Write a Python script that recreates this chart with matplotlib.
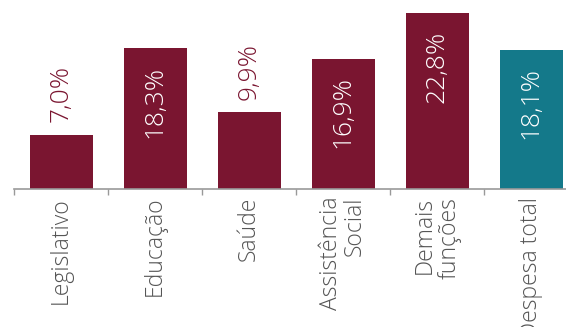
import matplotlib
matplotlib.use('Agg')
import matplotlib.pyplot as plt
import numpy as np

categories = ['Legislativo', 'Educação', 'Saúde', 'Assistência\nSocial', 'Demais\nfunções', 'Despesa total']
values = [7.0, 18.3, 9.9, 16.9, 22.8, 18.1]
labels = ['7,0%', '18,3%', '9,9%', '16,9%', '22,8%', '18,1%']

MAROON = '#7A1530'
TEAL = '#14798A'
plt.rcParams['font.family'] = ['Open Sans', 'DejaVu Sans']

fig = plt.figure(figsize=(5.66, 3.27), dpi=100)
ax = fig.add_axes([14 / 566, 1 - 188.5 / 327, 1 - 14 / 566, 188.5 / 327])

x = np.arange(len(values))
colors = [MAROON] * (len(values) - 1) + [TEAL]
ax.bar(x, values, width=0.67, color=colors, zorder=2)

ax.set_xlim(-0.5, 5.37)
ax.set_ylim(0, 24.55)

for xi, v, lb in zip(x, values, labels):
    if v < 12:
        ax.text(xi, v + 1.6, lb, rotation=90, ha='center', va='bottom',
                color=MAROON, fontsize=19, fontweight='light')
    else:
        ax.text(xi, v - 2.3, lb, rotation=90, ha='center', va='top',
                color='white', fontsize=19, fontweight='light')

for s in ['top', 'right', 'left']:
    ax.spines[s].set_visible(False)
ax.spines['bottom'].set_color('#999999')
ax.spines['bottom'].set_linewidth(1.2)
ax.set_yticks([])

ax.set_xticks(np.arange(-0.5, 5.5, 1.0))
ax.set_xticks(x, minor=True)
ax.set_xticklabels([])
ax.set_xticklabels(categories, minor=True, rotation=90, ha='center', va='top',
                   multialignment='right', fontsize=16.5, fontweight='light',
                   color='#555555', linespacing=1.0)
ax.tick_params(axis='x', which='major', length=4, color='#999999', width=1)
ax.tick_params(axis='x', which='minor', length=0, pad=6)

fig.savefig('out.png', dpi=100)
